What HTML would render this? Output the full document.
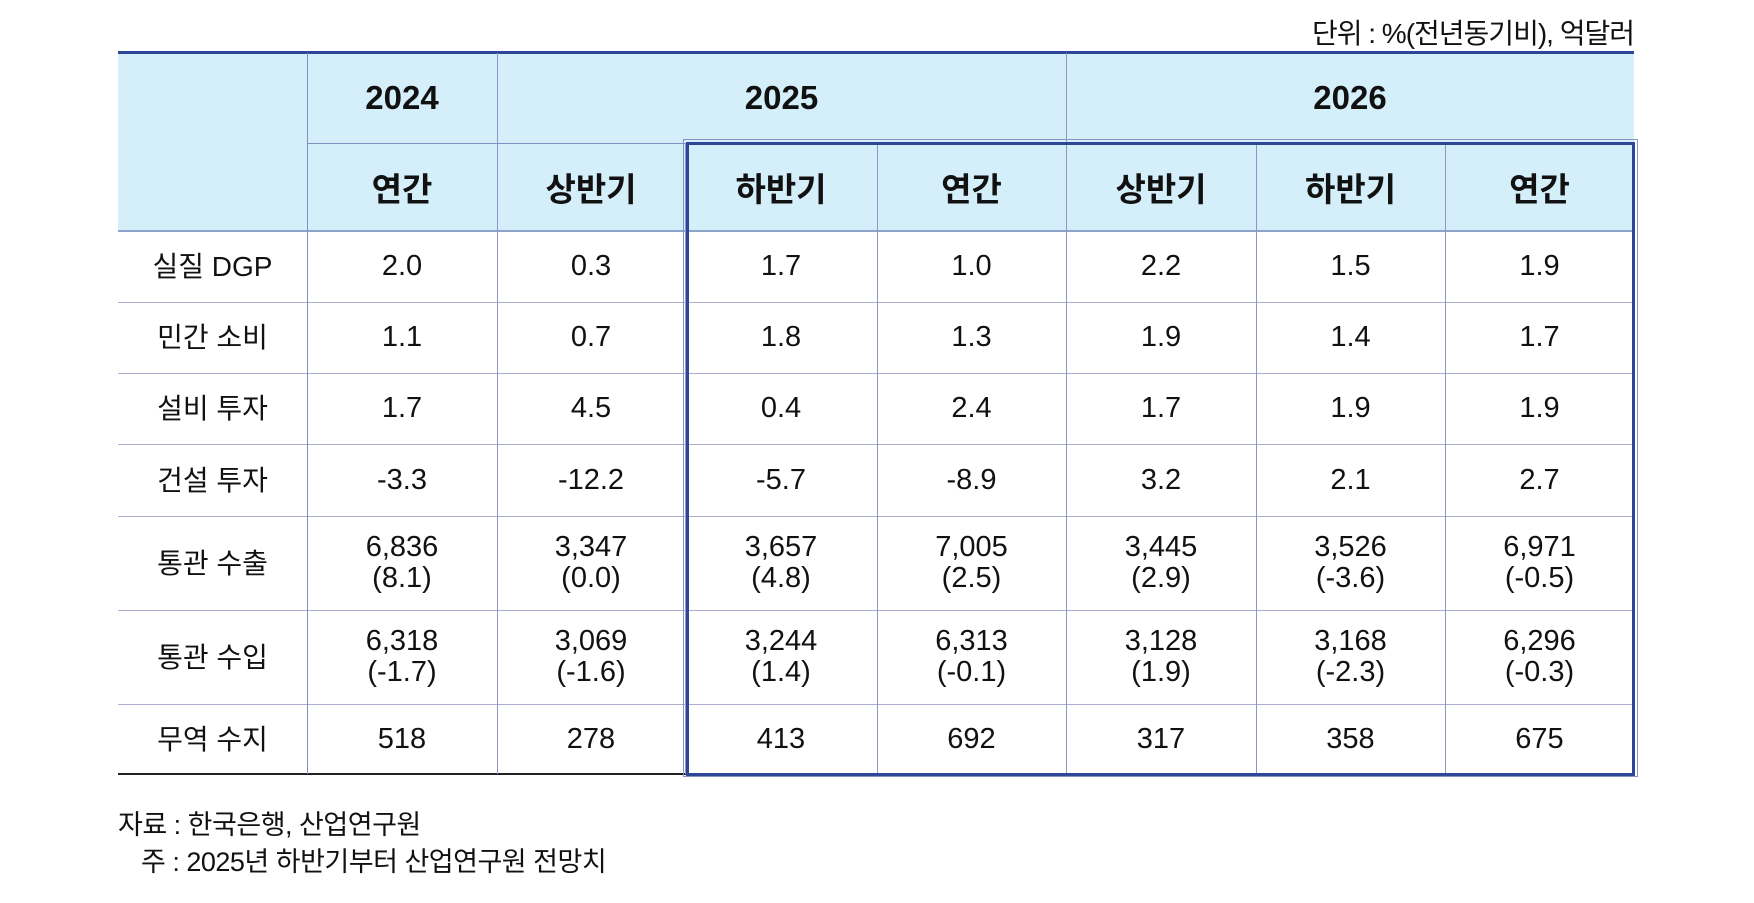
<!DOCTYPE html>
<html><head><meta charset="utf-8"><style>
html,body{margin:0;padding:0;background:#fff;}
body{width:1754px;height:903px;position:relative;overflow:hidden;font-family:"Liberation Sans","Noto Sans CJK KR",sans-serif;color:#111;}
.c{position:absolute;display:flex;align-items:center;justify-content:center;text-align:center;box-sizing:border-box;}
.hl{position:absolute;height:1px;background:#a9add0;}
.vl{position:absolute;width:1px;background:#8f96c4;}
.hd{background:#d4eefa;font-weight:bold;font-size:33px;}
.bd{font-size:29px;line-height:31px;}
</style></head><body>
<div style="position:absolute;right:120px;top:12px;font-size:28px;letter-spacing:-1px;">단위 : %(전년동기비), 억달러</div>
<div id="tbl"></div>
<div style="position:absolute;left:118px;top:803px;font-size:27px;letter-spacing:-0.5px;">자료 : 한국은행, 산업연구원</div>
<div style="position:absolute;left:141px;top:840px;font-size:27px;letter-spacing:-0.5px;">주 : 2025년 하반기부터 산업연구원 전망치</div>
<script>
const rowLabels=["실질 DGP","민간 소비","설비 투자","건설 투자","통관 수출","통관 수입","무역 수지"];
const subHeaders=["연간","상반기","하반기","연간","상반기","하반기","연간"];
const yearHeaders=["2024","2025","2026"];
const yearSpans=[1,3,3];
const cellValues=[
["2.0","0.3","1.7","1.0","2.2","1.5","1.9"],
["1.1","0.7","1.8","1.3","1.9","1.4","1.7"],
["1.7","4.5","0.4","2.4","1.7","1.9","1.9"],
["-3.3","-12.2","-5.7","-8.9","3.2","2.1","2.7"],
["6,836<br>(8.1)","3,347<br>(0.0)","3,657<br>(4.8)","7,005<br>(2.5)","3,445<br>(2.9)","3,526<br>(-3.6)","6,971<br>(-0.5)"],
["6,318<br>(-1.7)","3,069<br>(-1.6)","3,244<br>(1.4)","6,313<br>(-0.1)","3,128<br>(1.9)","3,168<br>(-2.3)","6,296<br>(-0.3)"],
["518","278","413","692","317","358","675"]
];
const T=document.getElementById('tbl');
const xs=[118,307,497,685,877,1066,1256,1445,1634];
const ys=[231,302,373,444,516,610,704,774];
function add(cls,x,y,w,h,html,name){
 const d=document.createElement('div');d.className=cls;
 d.style.left=x+'px';d.style.top=y+'px';d.style.width=w+'px';d.style.height=h+'px';
 if(html!==null)d.innerHTML=html;
 
 
 T.appendChild(d);return d;}
add('c hd',118,53,1516,178,'','header-background');
let ci=1;
yearHeaders.forEach((y,i)=>{const x0=xs[ci],x1=xs[ci+yearSpans[i]];add('c hd',x0,53,x1-x0,90,y,'year-header-'+y).style.background='transparent';ci+=yearSpans[i];});
subHeaders.forEach((s,i)=>{add('c hd',xs[i+1],143,xs[i+2]-xs[i+1],88,s,'sub-header').style.background='transparent';});
rowLabels.forEach((r,i)=>{add('c bd',118,ys[i],189,ys[i+1]-ys[i],r,'row-label').style.fontSize='28px';
 cellValues[i].forEach((v,j)=>{add('c bd',xs[j+1],ys[i],xs[j+2]-xs[j+1],ys[i+1]-ys[i],v,'data-cell');});});
add('hl',118,51,1516,3,null,'top-rule').style.background='#2e4697';
add('hl',307,143,1327,1,null,'header-divider').style.background='#7f90c0';
add('hl',118,230,1516,2,null,'header-bottom-rule').style.background='#8ea3cc';
for(let i=1;i<ys.length-1;i++)add('hl',118,ys[i],1516,1,null,'row-divider');
add('hl',118,773,1516,2,null,'bottom-rule').style.background='#222';
add('vl',307,53,1,721,null,'col-divider').style.background='#7f90c0';
[497,1066].forEach(x=>add('vl',x,53,1,721,null,'col-divider'));
[685,877,1256,1445].forEach(x=>add('vl',x,143,1,631,null,'col-divider'));
let b=add('hl',683,139,955,638,null,'forecast-highlight-box');
b.style.background='transparent';b.style.border='1px solid #8a92c4';b.style.boxSizing='border-box';
let b2=add('hl',686,142,949,634,null,'forecast-highlight-inner');
b2.style.background='transparent';b2.style.border='3px solid #2e4697';b2.style.boxSizing='border-box';
</script>
</body></html>
